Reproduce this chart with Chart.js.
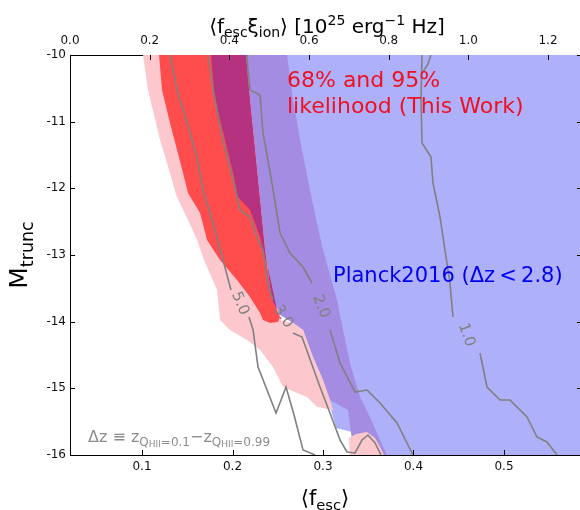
<!DOCTYPE html>
<html>
<head>
<meta charset="utf-8">
<script src="https://cdn.jsdelivr.net/npm/chart.js@4.4.1/dist/chart.umd.min.js"></script>
<style>
  html, body { margin: 0; padding: 0; background: #fff; overflow: hidden; }
  canvas { display: block; }
</style>
</head>
<body>
<canvas id="chart" width="580" height="510"></canvas>
<script>
// ---- axis ticks ----
const fescTicks = [0.1, 0.2, 0.3, 0.4, 0.5];
const fescXiTicks = [0.0, 0.2, 0.4, 0.6, 0.8, 1.0, 1.2];
const mtruncTicks = [-10, -11, -12, -13, -14, -15, -16];

// ---- confidence regions, [<f_esc>, M_trunc] outlines ----
const planck95 = [[0.2249,-10],[0.59,-10],[0.59,-16],[0.3387,-16],[0.3320,-15.655],[0.3144,-15.595],
  [0.3088,-15.325],[0.2967,-14.875],[0.2746,-13.975],[0.2470,-12.475],[0.2282,-11.275],[0.2249,-10]];
const planck68 = [[0.2149,-10],[0.2193,-10.675],[0.2249,-11.425],[0.2304,-12.175],[0.2359,-12.925],
  [0.2436,-13.675],[0.2492,-13.87],[0.2669,-14.02],[0.2779,-14.125],[0.2890,-14.53],[0.3000,-14.875],
  [0.3077,-15.175],[0.3276,-15.325],[0.3320,-15.775],[0.3354,-16],[0.3707,-16],[0.3630,-15.775],
  [0.3519,-15.43],[0.3409,-15.13],[0.3298,-14.62],[0.3221,-14.125],[0.3155,-13.675],[0.3000,-12.925],
  [0.2878,-12.175],[0.2768,-11.425],[0.2669,-10.675],[0.2602,-10]];
const like95 = [[0.1011,-10],[0.1066,-10.525],[0.1199,-11.275],[0.1309,-11.77],[0.1376,-12.1],
  [0.1508,-12.475],[0.1608,-12.775],[0.1685,-13.075],[0.1829,-13.525],[0.1862,-13.975],[0.1972,-14.125],
  [0.2160,-14.275],[0.2304,-14.425],[0.2448,-14.68],[0.2558,-14.98],[0.2713,-15.07],[0.2823,-15.13],
  [0.2934,-15.28],[0.3110,-15.325],[0.3077,-15.175],[0.3000,-14.875],[0.2890,-14.53],[0.2779,-14.125],
  [0.2669,-14.02],[0.2525,-13.975],[0.2503,-13.825],[0.2436,-13.675],[0.2359,-12.925],[0.2304,-12.175],
  [0.2249,-11.425],[0.2193,-10.675],[0.2149,-10]];
const like95Tail = [[0.3298,-16],[0.3287,-15.745],[0.3365,-15.685],[0.3486,-15.655],[0.3575,-15.745],
  [0.3630,-15.88],[0.3674,-16]];
const like68 = [[0.1188,-10],[0.1221,-10.525],[0.1309,-11.02],[0.1453,-11.77],[0.1508,-12.07],
  [0.1641,-12.37],[0.1718,-12.775],[0.1862,-13.075],[0.2050,-13.375],[0.2193,-13.63],[0.2304,-13.87],
  [0.2337,-13.975],[0.2414,-14.02],[0.2503,-14.005],[0.2525,-13.93],[0.2492,-13.825],[0.2436,-13.675],
  [0.2359,-12.925],[0.2304,-12.175],[0.2249,-11.425],[0.2193,-10.675],[0.2149,-10]];
const like68Planck = [[0.1762,-10],[0.1796,-10.525],[0.1829,-10.78],[0.1917,-11.275],[0.2006,-11.77],
  [0.2061,-12.13],[0.2193,-12.325],[0.2304,-12.73],[0.2414,-13.33],[0.2492,-13.825],[0.2436,-13.675],
  [0.2359,-12.925],[0.2304,-12.175],[0.2249,-11.425],[0.2193,-10.675],[0.2149,-10]];

// ---- Δz contours: each level is two pieces, broken where its label sits ----
const dz50 = [
  [[0.1309,-10],[0.1387,-10.525],[0.1497,-11.02],[0.1608,-11.53],[0.1674,-12.025],[0.1785,-12.52],
   [0.1895,-13.075],[0.1983,-13.525]],
  [[0.2182,-13.93],[0.2227,-14.125],[0.2282,-14.68],[0.2481,-15.37],[0.2591,-14.98],[0.2680,-15.4],
   [0.2779,-15.925],[0.2912,-16]]];
const dz30 = [
  [[0.1729,-10],[0.1785,-10.525],[0.1884,-11.23],[0.2006,-11.875],[0.2083,-12.325],[0.2193,-12.43],
   [0.2282,-12.775],[0.2337,-12.925],[0.2392,-13.45],[0.2448,-13.675]],
  [[0.2669,-14.17],[0.2768,-14.23],[0.2967,-14.98],[0.3077,-15.37],[0.3188,-15.775],[0.3265,-15.955],
   [0.3354,-15.97],[0.3431,-15.775],[0.3497,-15.7],[0.3575,-15.82],[0.3641,-16]]];
const dz20 = [
  [[0.2160,-10],[0.2171,-10.225],[0.2193,-10.525],[0.2304,-10.6],[0.2337,-11.17],[0.2436,-11.92],
   [0.2525,-12.67],[0.2635,-12.97],[0.2779,-13.18],[0.2878,-13.42]],
  [[0.3077,-14.125],[0.3188,-14.62],[0.3354,-15.055],[0.3486,-15.025],[0.3630,-15.22],[0.3818,-15.52],
   [0.3994,-16]]];
const dz10 = [
  [[0.4094,-10],[0.4083,-10.675],[0.4094,-11.32],[0.4193,-11.53],[0.4215,-11.92],[0.4293,-12.43],
   [0.4348,-12.925],[0.4403,-13.42],[0.4436,-13.93]],
  [[0.4735,-14.47],[0.4812,-14.98],[0.4956,-15.175],[0.5066,-15.175],[0.5254,-15.43],[0.5365,-15.73],
   [0.5475,-15.805],[0.5586,-16]]];
const dz10Spur = [[0.4193,-10],[0.4160,-10.135],[0.4105,-10.255]];
const contourLevels = [
  { label: '5.0', pieces: dz50 },
  { label: '3.0', pieces: dz30 },
  { label: '2.0', pieces: dz20 },
  { label: '1.0', pieces: dz10 }
];

const FAMILY = '"DejaVu Sans", "Liberation Sans", sans-serif';
const GREY = '#808080';
const toPts = arr => arr.map(([x, y]) => ({ x, y }));

// filled outlines, listed bottom to top
const regions = [
  { name: 'Planck2016 95%', data: planck95, color: 'rgb(174,176,250)' },
  { name: 'Planck2016 68%', data: planck68, color: 'rgb(163,140,226)' },
  { name: 'This work 95%', data: like95, color: 'rgb(252,200,206)' },
  { name: 'This work 95% (tail)', data: like95Tail, color: 'rgb(252,200,206)' },
  { name: 'This work 68%', data: like68, color: 'rgb(255,76,76)' },
  { name: 'This work 68% within Planck', data: like68Planck, color: 'rgb(180,50,128)' }
];

const datasets = [];
regions.forEach(r => datasets.push({
  label: r.name, data: toPts(r.data), region: true, backgroundColor: r.color,
  showLine: false, pointRadius: 0, pointHoverRadius: 0, xAxisID: 'x', yAxisID: 'y'
}));
const lineStyle = { showLine: true, fill: false, borderColor: GREY, borderWidth: 1.6, pointRadius: 0,
  pointHoverRadius: 0, tension: 0, xAxisID: 'x', yAxisID: 'y' };
contourLevels.forEach(lv => {
  lv.indices = [];
  lv.pieces.forEach(p => { lv.indices.push(datasets.length); datasets.push({ label: 'Δz=' + lv.label, data: toPts(p), ...lineStyle }); });
});
datasets.push({ label: 'Δz=1.0', data: toPts(dz10Spur), ...lineStyle });

// draws text made of normal / sub / sup / sub-sub pieces
function richText(ctx, parts, x, y, size, align, subScale) {
  const s1 = subScale || 0.7;
  const scale = [1, s1, s1, s1 * 0.75];
  const shift = [0, 0.22, -0.42, 0.34];
  const widths = parts.map(([t, m]) => { ctx.font = (size * scale[m]) + 'px ' + FAMILY; return ctx.measureText(t).width; });
  const total = widths.reduce((a, b) => a + b, 0);
  let cx = align === 'center' ? x - total / 2 : x;
  ctx.textAlign = 'left';
  ctx.textBaseline = 'alphabetic';
  parts.forEach(([t, m], i) => {
    ctx.font = (size * scale[m]) + 'px ' + FAMILY;
    ctx.fillText(t, cx, y + shift[m] * size);
    cx += widths[i];
  });
}

const regionFill = {
  id: 'regionFill',
  beforeDatasetsDraw(chart) {
    const { ctx, chartArea: a } = chart;
    ctx.save();
    ctx.beginPath();
    ctx.rect(a.left, a.top, a.right - a.left, a.bottom - a.top);
    ctx.clip();
    chart.data.datasets.forEach((ds, i) => {
      if (!ds.region) return;
      const pts = chart.getDatasetMeta(i).data;
      ctx.beginPath();
      pts.forEach((p, k) => (k ? ctx.lineTo(p.x, p.y) : ctx.moveTo(p.x, p.y)));
      ctx.closePath();
      ctx.fillStyle = ds.backgroundColor;
      ctx.fill();
    });
    ctx.restore();
  }
};

const annotations = {
  id: 'annotations',
  afterDatasetsDraw(chart) {
    const { ctx, scales: { x, y } } = chart;
    ctx.save();
    // contour labels, centred in the gap of each level and turned along it
    contourLevels.forEach(lv => {
      const a = chart.getDatasetMeta(lv.indices[0]).data;
      const b = chart.getDatasetMeta(lv.indices[1]).data;
      const p = a[a.length - 1], q = b[0];
      const p2 = a[a.length - 2], q2 = b[1];
      const ang = Math.atan2(q2.y - p2.y, q2.x - p2.x);
      ctx.save();
      ctx.translate((p.x + q.x) / 2, (p.y + q.y) / 2);
      ctx.rotate(ang);
      ctx.fillStyle = GREY;
      ctx.font = '15px ' + FAMILY;
      ctx.textAlign = 'center';
      ctx.textBaseline = 'middle';
      ctx.fillText(lv.label, 0, 0);
      ctx.restore();
    });
    ctx.fillStyle = '#f01020';
    ctx.font = '22px ' + FAMILY;
    ctx.textAlign = 'left';
    ctx.textBaseline = 'alphabetic';
    ctx.fillText('68% and 95%', x.getPixelForValue(0.2602), y.getPixelForValue(-10.48));
    ctx.fillText('likelihood (This Work)', x.getPixelForValue(0.2602), y.getPixelForValue(-10.87));
    ctx.fillStyle = '#0000f0';
    ctx.font = '21px ' + FAMILY;
    ctx.fillText('Planck2016 (Δz\u2009<\u20092.8)', x.getPixelForValue(0.3110), y.getPixelForValue(-13.405));
    ctx.fillStyle = '#8c8c8c';
    richText(ctx, [['Δz \u2261 z', 0], ['Q', 1], ['HII', 3], ['=0.1', 1], ['\u2212z', 0], ['Q', 1], ['HII', 3], ['=0.99', 1]],
      x.getPixelForValue(0.0403), y.getPixelForValue(-15.805), 16, 'left', 0.75);
    ctx.restore();
  },
  afterDraw(chart) {
    const { ctx, chartArea: a, scales } = chart;
    ctx.save();
    // inward tick marks on every side
    ctx.strokeStyle = '#000';
    ctx.lineWidth = 1;
    const L = 5;
    ctx.beginPath();
    scales.x.ticks.forEach(t => { const px = Math.round(scales.x.getPixelForValue(t.value)) + 0.5; ctx.moveTo(px, a.bottom); ctx.lineTo(px, a.bottom - L); });
    scales.x2.ticks.forEach(t => { const px = Math.round(scales.x2.getPixelForValue(t.value)) + 0.5; ctx.moveTo(px, a.top); ctx.lineTo(px, a.top + L); });
    scales.y.ticks.forEach(t => {
      const py = Math.round(scales.y.getPixelForValue(t.value)) + 0.5;
      ctx.moveTo(a.left, py); ctx.lineTo(a.left + L, py);
      ctx.moveTo(a.right, py); ctx.lineTo(a.right - 3, py);
    });
    ctx.stroke();
    // axis titles
    ctx.fillStyle = '#000';
    const cx = (a.left + a.right) / 2;
    richText(ctx, [['\u27E8f', 0], ['esc', 1], ['\u03BE', 0], ['ion', 1], ['\u27E9 [10', 0], ['25', 2], [' erg', 0], ['\u22121', 2], [' Hz]', 0]],
      cx + 2, 33, 20, 'center');
    richText(ctx, [['\u27E8f', 0], ['esc', 1], ['\u27E9', 0]], cx, 505, 21, 'center');
    ctx.save();
    ctx.translate(27, (a.top + a.bottom) / 2);
    ctx.rotate(-Math.PI / 2);
    richText(ctx, [['M', 0], ['trunc', 1]], 0, 0, 25, 'center');
    ctx.restore();
    ctx.restore();
  }
};

const axisCommon = {
  type: 'linear',
  grid: { display: true, drawOnChartArea: false, drawTicks: false },
  border: { display: true, color: '#000', width: 1 }
};

new Chart(document.getElementById('chart'), {
  type: 'scatter',
  data: { datasets },
  options: {
    responsive: false,
    animation: false,
    events: [],
    layout: { padding: 0 },
    plugins: { legend: { display: false }, tooltip: { enabled: false } },
    scales: {
      x: {
        ...axisCommon, position: 'bottom', min: 0.0204, max: 0.584,
        afterBuildTicks: s => { s.ticks = fescTicks.map(v => ({ value: v })); },
        afterFit: s => { s.height = 55; },
        ticks: { padding: 5, color: '#111', font: { size: 12, family: FAMILY }, maxRotation: 0, autoSkip: false, callback: v => v.toFixed(1) }
      },
      x2: {
        ...axisCommon, position: 'top', min: 0, max: 1.2803,
        afterBuildTicks: s => { s.ticks = fescXiTicks.map(v => ({ value: v })); },
        afterFit: s => { s.height = 55; },
        ticks: { padding: 7, color: '#111', font: { size: 12, family: FAMILY }, maxRotation: 0, autoSkip: false, callback: v => v.toFixed(1) }
      },
      y: {
        ...axisCommon, position: 'left', min: -16, max: -10,
        afterBuildTicks: s => { s.ticks = mtruncTicks.map(v => ({ value: v })); },
        afterFit: s => { s.width = 70; },
        ticks: { padding: 4, color: '#111', font: { size: 12, family: FAMILY }, autoSkip: false, callback: v => String(v) }
      }
    }
  },
  plugins: [regionFill, annotations]
});
</script>
</body>
</html>
